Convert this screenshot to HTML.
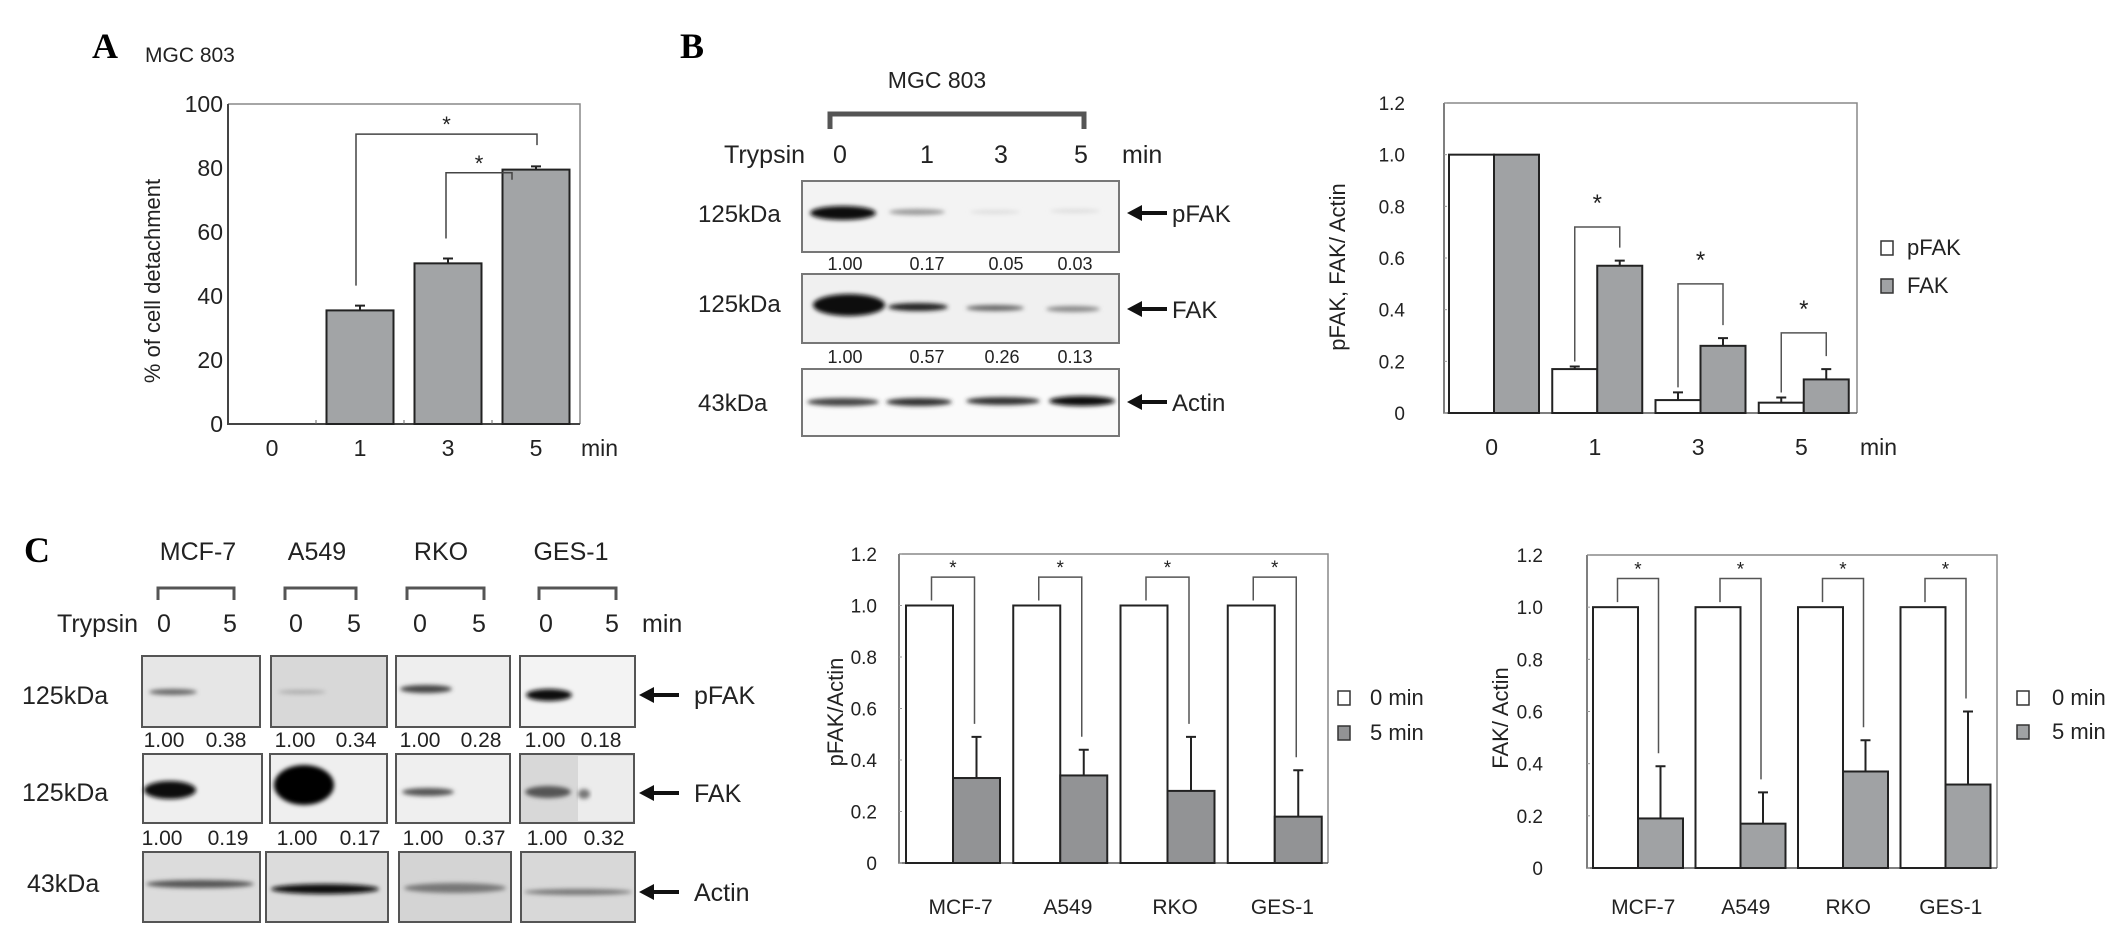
<!DOCTYPE html>
<html><head><meta charset="utf-8">
<style>
html,body{margin:0;padding:0;background:#fff;}
svg{display:block;font-family:"Liberation Sans",Arial,sans-serif;}
</style></head>
<body>
<svg id="fig" width="2126" height="925" viewBox="0 0 2126 925" xmlns="http://www.w3.org/2000/svg">
<defs>
<filter id="bl2" x="-20%" y="-100%" width="140%" height="300%"><feGaussianBlur stdDeviation="2"/></filter>
<filter id="bl4" x="-20%" y="-100%" width="140%" height="300%"><feGaussianBlur stdDeviation="4"/></filter>
</defs>

<!-- Panel labels -->
<text x="92" y="58" font-family="Liberation Serif,serif" font-weight="bold" font-size="36">A</text>
<text x="145" y="62" font-size="21" fill="#222">MGC 803</text>
<text x="680" y="58" font-family="Liberation Serif,serif" font-weight="bold" font-size="36">B</text>
<text x="24" y="562" font-family="Liberation Serif,serif" font-weight="bold" font-size="36">C</text>

<!-- Panel B blots -->
<g>
<text x="937" y="88" font-size="23" text-anchor="middle" fill="#222">MGC 803</text>
<path d="M830 129 V114 H1084 V129" fill="none" stroke="#555" stroke-width="5"/>
<g font-size="25" fill="#222">
<text x="724" y="163">Trypsin</text>
<text x="840" y="163" text-anchor="middle">0</text>
<text x="927" y="163" text-anchor="middle">1</text>
<text x="1001" y="163" text-anchor="middle">3</text>
<text x="1081" y="163" text-anchor="middle">5</text>
<text x="1122" y="163">min</text>
</g>
<g font-size="24" fill="#222">
<text x="698" y="222">125kDa</text>
<text x="698" y="312">125kDa</text>
<text x="698" y="411">43kDa</text>
</g>
<rect x="802" y="181" width="317" height="71" fill="#f3f3f3" stroke="#777" stroke-width="2"/>
<ellipse cx="843" cy="213" rx="33" ry="7" fill="#111" filter="url(#bl2)"/>
<ellipse cx="917" cy="212" rx="28" ry="3" fill="#999" filter="url(#bl2)"/>
<ellipse cx="995" cy="212" rx="25" ry="2" fill="#ddd" filter="url(#bl2)"/>
<ellipse cx="1075" cy="211" rx="25" ry="2" fill="#ddd" filter="url(#bl2)"/>
<rect x="802" y="274" width="317" height="69" fill="#f0f0f0" stroke="#777" stroke-width="2"/>
<ellipse cx="849" cy="305" rx="36" ry="11" fill="#0a0a0a" filter="url(#bl2)"/>
<ellipse cx="918" cy="307" rx="30" ry="4" fill="#222" filter="url(#bl2)"/>
<ellipse cx="995" cy="308" rx="29" ry="3" fill="#666" filter="url(#bl2)"/>
<ellipse cx="1073" cy="309" rx="27" ry="3" fill="#888" filter="url(#bl2)"/>
<rect x="802" y="369" width="317" height="67" fill="#fafafa" stroke="#777" stroke-width="2"/>
<ellipse cx="843" cy="402" rx="36" ry="4" fill="#444" filter="url(#bl2)"/>
<ellipse cx="919" cy="402" rx="33" ry="4" fill="#333" filter="url(#bl2)"/>
<ellipse cx="1003" cy="401" rx="37" ry="4" fill="#333" filter="url(#bl2)"/>
<ellipse cx="1082" cy="401" rx="33" ry="5" fill="#111" filter="url(#bl2)"/>
<g font-size="18" fill="#222" text-anchor="middle">
<text x="845" y="270">1.00</text><text x="927" y="270">0.17</text><text x="1006" y="270">0.05</text><text x="1075" y="270">0.03</text>
</g>
<g font-size="18" fill="#222" text-anchor="middle">
<text x="845" y="363">1.00</text><text x="927" y="363">0.57</text><text x="1002" y="363">0.26</text><text x="1075" y="363">0.13</text>
</g>
<g fill="#111">
<path d="M1127 213 L1142 205 V211 H1167 V215 H1142 V221 Z"/>
<path d="M1127 309 L1142 301 V307 H1167 V311 H1142 V317 Z"/>
<path d="M1127 402 L1142 394 V400 H1167 V404 H1142 V410 Z"/>
</g>
<g font-size="24" fill="#222">
<text x="1172" y="222">pFAK</text>
<text x="1172" y="318">FAK</text>
<text x="1172" y="411">Actin</text>
</g>
</g>

<!-- Panel C blots -->
<g>
<g font-size="25" fill="#222" text-anchor="middle">
<text x="198" y="560">MCF-7</text><text x="317" y="560">A549</text><text x="441" y="560">RKO</text><text x="571" y="560">GES-1</text>
</g>
<g fill="none" stroke="#555" stroke-width="3">
<path d="M158 600 V588 H234 V600"/><path d="M285 600 V588 H356 V600"/><path d="M407 600 V588 H484 V600"/><path d="M539 600 V588 H616 V600"/>
</g>
<g font-size="25" fill="#222">
<text x="57" y="632">Trypsin</text>
<text x="164" y="632" text-anchor="middle">0</text><text x="230" y="632" text-anchor="middle">5</text>
<text x="296" y="632" text-anchor="middle">0</text><text x="354" y="632" text-anchor="middle">5</text>
<text x="420" y="632" text-anchor="middle">0</text><text x="479" y="632" text-anchor="middle">5</text>
<text x="546" y="632" text-anchor="middle">0</text><text x="612" y="632" text-anchor="middle">5</text>
<text x="642" y="632">min</text>
</g>
<g font-size="25" fill="#222">
<text x="22" y="704">125kDa</text>
<text x="22" y="801">125kDa</text>
<text x="27" y="892">43kDa</text>
</g>
<!-- pFAK row -->
<rect x="142" y="656" width="118" height="71" fill="#e6e6e6" stroke="#555" stroke-width="2"/>
<ellipse cx="173" cy="692" rx="24" ry="3" fill="#666" filter="url(#bl2)"/>
<rect x="271" y="656" width="116" height="71" fill="#d8d8d8" stroke="#555" stroke-width="2"/>
<ellipse cx="302" cy="692" rx="24" ry="2" fill="#aaa" filter="url(#bl2)"/>
<rect x="396" y="656" width="114" height="71" fill="#eeeeee" stroke="#555" stroke-width="2"/>
<ellipse cx="426" cy="689" rx="26" ry="4" fill="#444" filter="url(#bl2)"/>
<rect x="520" y="656" width="115" height="71" fill="#f3f3f3" stroke="#555" stroke-width="2"/>
<ellipse cx="549" cy="695" rx="23" ry="6" fill="#111" filter="url(#bl2)"/>
<!-- FAK row -->
<rect x="143" y="754" width="119" height="69" fill="#efefef" stroke="#555" stroke-width="2"/>
<ellipse cx="170" cy="790" rx="26" ry="9" fill="#111" filter="url(#bl2)"/>
<rect x="270" y="754" width="117" height="69" fill="#efefef" stroke="#555" stroke-width="2"/>
<ellipse cx="304" cy="785" rx="30" ry="20" fill="#050505" filter="url(#bl2)"/>
<rect x="396" y="754" width="114" height="69" fill="#efefef" stroke="#555" stroke-width="2"/>
<ellipse cx="428" cy="792" rx="26" ry="4" fill="#555" filter="url(#bl2)"/>
<rect x="520" y="754" width="114" height="69" fill="#d8d8d8" stroke="#555" stroke-width="2"/>
<rect x="578" y="756" width="55" height="65" fill="#ececec"/>
<ellipse cx="548" cy="792" rx="23" ry="6" fill="#555" filter="url(#bl2)"/>
<ellipse cx="584" cy="794" rx="6" ry="5" fill="#777" filter="url(#bl2)"/>
<!-- Actin row -->
<rect x="143" y="852" width="117" height="70" fill="#dcdcdc" stroke="#555" stroke-width="2"/>
<ellipse cx="200" cy="884" rx="54" ry="4" fill="#555" filter="url(#bl2)"/>
<rect x="266" y="852" width="122" height="70" fill="#dcdcdc" stroke="#555" stroke-width="2"/>
<ellipse cx="325" cy="889" rx="54" ry="5" fill="#111" filter="url(#bl2)"/>
<rect x="399" y="852" width="112" height="70" fill="#d4d4d4" stroke="#555" stroke-width="2"/>
<ellipse cx="455" cy="888" rx="51" ry="5" fill="#777" filter="url(#bl2)"/>
<rect x="521" y="852" width="114" height="70" fill="#d8d8d8" stroke="#555" stroke-width="2"/>
<ellipse cx="578" cy="892" rx="54" ry="3" fill="#777" filter="url(#bl2)"/>
<g font-size="21" fill="#222" text-anchor="middle">
<text x="164" y="747">1.00</text><text x="226" y="747">0.38</text><text x="295" y="747">1.00</text><text x="356" y="747">0.34</text>
<text x="420" y="747">1.00</text><text x="481" y="747">0.28</text><text x="545" y="747">1.00</text><text x="601" y="747">0.18</text>
</g>
<g font-size="21" fill="#222" text-anchor="middle">
<text x="162" y="845">1.00</text><text x="228" y="845">0.19</text><text x="297" y="845">1.00</text><text x="360" y="845">0.17</text>
<text x="423" y="845">1.00</text><text x="485" y="845">0.37</text><text x="547" y="845">1.00</text><text x="604" y="845">0.32</text>
</g>
<g fill="#111">
<path d="M639 695 L654 687 V693 H679 V697 H654 V703 Z"/>
<path d="M639 793 L654 785 V791 H679 V795 H654 V801 Z"/>
<path d="M639 892 L654 884 V890 H679 V894 H654 V900 Z"/>
</g>
<g font-size="25" fill="#222">
<text x="694" y="704">pFAK</text>
<text x="694" y="802">FAK</text>
<text x="694" y="901">Actin</text>
</g>
</g>

<g id="charts"></g>
</svg>

<script>
// ---------- Chart data ----------
const aCategories = ['0', '1', '3', '5'];
const aValues = [0, 35.5, 50.2, 79.5];
const aErrors = [0, 1.5, 1.5, 1.0];
const aTicks = [0, 20, 40, 60, 80, 100];
const aBracketTops = [90.6, 78.5];

const bCategories = ['0', '1', '3', '5'];
const bPFAK = [1.0, 0.17, 0.05, 0.04];
const bPFAKErr = [0, 0.01, 0.03, 0.02];
const bFAK = [1.0, 0.57, 0.26, 0.13];
const bFAKErr = [0, 0.02, 0.03, 0.04];
const bBracketTops = [0.72, 0.50, 0.31];
const bTicks = [0, 0.2, 0.4, 0.6, 0.8, 1.0, 1.2];
const bTickLabels = ['0', '0.2', '0.4', '0.6', '0.8', '1.0', '1.2'];

const cCategories = ['MCF-7', 'A549', 'RKO', 'GES-1'];
const c1Zero = [1, 1, 1, 1];
const c1Five = [0.33, 0.34, 0.28, 0.18];
const c1FiveErr = [0.16, 0.10, 0.21, 0.18];
const c2Zero = [1, 1, 1, 1];
const c2Five = [0.19, 0.17, 0.37, 0.32];
const c2FiveErr = [0.20, 0.12, 0.12, 0.28];
const cBracketTop = 1.11;
const cTicks = [0, 0.2, 0.4, 0.6, 0.8, 1.0, 1.2];
const cTickLabels = ['0', '0.2', '0.4', '0.6', '0.8', '1.0', '1.2'];

const NS = 'http://www.w3.org/2000/svg';
const root = document.getElementById('charts');
function mk(tag, attrs, parent) {
  const e = document.createElementNS(NS, tag);
  for (const k in attrs) e.setAttribute(k, attrs[k]);
  (parent || root).appendChild(e);
  return e;
}
function lin(d0, d1, r0, r1) { return v => r0 + (v - d0) * (r1 - r0) / (d1 - d0); }

// ---------- Panel A ----------
(function () {
  const g = mk('g', {});
  
  
  const L = 228, R = 580, T = 104, B = 424;
  const y = lin(0, 100, B, T);
  const step = (R - L) / aCategories.length;
  const cx = i => L + step * (i + 0.5);
  const frame = mk('path', { d: `M${L} ${T} H${R} V${B}`, fill: 'none', stroke: '#888', 'stroke-width': 1.5 }, g);
  
  
  const ax = mk('path', { d: `M${L} ${T} V${B} H${R}`, fill: 'none', stroke: '#444', 'stroke-width': 2 }, g);
  
  
  aTicks.forEach(t => {
    const tl = mk('text', { x: 223, y: y(t) + 8, 'font-size': 23, 'text-anchor': 'end', fill: '#222' }, g);
    tl.textContent = String(t);
    
    
  });
  aCategories.forEach((c, i) => {
    if (i > 0) mk('line', { x1: L + step * i, x2: L + step * i, y1: B, y2: B - 4, stroke: '#666' }, g);
    const v = aValues[i];
    if (v > 0) {
      const bar = mk('rect', { x: cx(i) - 33.5, y: y(v), width: 67, height: B - y(v), fill: '#a2a4a6', stroke: '#222', 'stroke-width': 2 }, g);
      
      
      const e = mk('path', { d: `M${cx(i)} ${y(v)} V${y(v + aErrors[i])} M${cx(i) - 5} ${y(v + aErrors[i])} H${cx(i) + 5}`, stroke: '#222', 'stroke-width': 2 }, g);
      
      
    }
    const xl = mk('text', { x: cx(i), y: 456, 'font-size': 23, 'text-anchor': 'middle', fill: '#222' }, g);
    xl.textContent = c;
    
    
  });
  const mn = mk('text', { x: 581, y: 456, 'font-size': 23, fill: '#222' }, g);
  mn.textContent = 'min';
  
  
  const yt = mk('text', { x: 0, y: 0, 'font-size': 22, 'text-anchor': 'middle', fill: '#222', transform: 'translate(160,281) rotate(-90)' }, g);
  yt.textContent = '% of cell detachment';
  
  
  // significance brackets: 1 vs 5, 3 vs 5
  const pairs = [[1, 3], [2, 3]];
  pairs.forEach((p, k) => {
    const top = y(aBracketTops[k]);
    const x1 = cx(p[0]) - (k === 0 ? 4 : 2), x2 = cx(p[1]) + (k === 0 ? 1 : -24);
    const yl = y(aValues[p[0]] + aErrors[p[0]]) - 20;
    const yr = top + (k === 0 ? 11 : 7);
    const br = mk('path', { d: `M${x1} ${yl} V${top} H${x2} V${yr}`, fill: 'none', stroke: '#444', 'stroke-width': 1.5 }, g);
    
    
    const st = mk('text', { x: (x1 + x2) / 2, y: top - 2, 'font-size': 22, 'text-anchor': 'middle', fill: '#222' }, g);
    st.textContent = '*';
    
    
  });
})();

// ---------- grouped chart helper ----------
function groupedChart(opt) {
  const g = mk('g', {});
  
  
  const { L, R, T, B } = opt;
  const y = lin(0, 1.2, B, T);
  const step = (R - L) / opt.cats.length;
  const frame = mk('path', { d: `M${L} ${T} H${R} V${B}`, fill: 'none', stroke: '#888', 'stroke-width': 1.5 }, g);
  
  
  const ax = mk('path', { d: `M${L} ${T} V${B} H${R}`, fill: 'none', stroke: '#555', 'stroke-width': 1.5 }, g);
  
  
  opt.ticks.forEach((t, i) => {
    mk('line', { x1: L, x2: L + 3, y1: y(t), y2: y(t), stroke: '#999' }, g);
    const tl = mk('text', { x: opt.tickX, y: y(t) + 7, 'font-size': 19, 'text-anchor': 'end', fill: '#222' }, g);
    tl.textContent = opt.tickLabels[i];
    
    
  });
  opt.cats.forEach((c, i) => {
    const gs = L + step * i;
    const x0 = gs + opt.pad, x1 = x0 + opt.bw;
    const v0 = opt.s0[i], v1 = opt.s1[i];
    const b0 = mk('rect', { x: x0, y: y(v0), width: opt.bw, height: B - y(v0), fill: '#fff', stroke: '#222', 'stroke-width': 2 }, g);
    
    
    const b1 = mk('rect', { x: x1, y: y(v1), width: opt.bw, height: B - y(v1), fill: opt.fill1, stroke: '#222', 'stroke-width': 2 }, g);
    
    
    const c0 = x0 + opt.bw / 2, c1 = x1 + opt.bw / 2;
    let e0top = y(v0), e1top = y(v1 + opt.e1[i]);
    if (opt.e0 && opt.e0[i] > 0) {
      e0top = y(v0 + opt.e0[i]);
      const e = mk('path', { d: `M${c0} ${y(v0)} V${e0top} M${c0 - 5} ${e0top} H${c0 + 5}`, stroke: '#222', 'stroke-width': 2 }, g);
      
      
    }
    if (opt.e1[i] > 0) {
      const e = mk('path', { d: `M${c1} ${y(v1)} V${e1top} M${c1 - 5} ${e1top} H${c1 + 5}`, stroke: '#222', 'stroke-width': 2 }, g);
      
      
    }
    const bt = opt.bracket(i);
    if (bt !== null) {
      const top = y(bt);
      const lx = c0 - opt.bInset, rx = c1 + opt.bInset;
      const br = mk('path', { d: `M${lx} ${e0top - 5} V${top} H${rx} V${e1top - 13}`, fill: 'none', stroke: '#555', 'stroke-width': 1.5 }, g);
      
      
      const st = mk('text', { x: (lx + rx) / 2, y: top - opt.starGap, 'font-size': opt.starSize, 'text-anchor': 'middle', fill: '#222' }, g);
      st.textContent = '*';
      
      
    }
    const xl = mk('text', { x: gs + step / 2 + opt.labelShift, y: opt.labelY, 'font-size': opt.labelSize, 'text-anchor': 'middle', fill: '#222' }, g);
    xl.textContent = c;
    
    
  });
  const yt = mk('text', { x: 0, y: 0, 'font-size': 22, 'text-anchor': 'middle', fill: '#222', transform: `translate(${opt.titleX},${opt.titleY}) rotate(-90)` }, g);
  yt.textContent = opt.title;
  
  
  opt.legend.forEach((lg, k) => {
    const sq = mk('rect', { x: opt.legX, y: opt.legY + k * opt.legStep, width: 12, height: 14, fill: k === 0 ? '#fff' : opt.fill1, stroke: '#333', 'stroke-width': 1.5 }, g);
    
    
    const lt = mk('text', { x: opt.legX + opt.legTextDx, y: opt.legY + k * opt.legStep + 14, 'font-size': 22, fill: '#222' }, g);
    lt.textContent = lg;
    
    
  });
  return g;
}

// Panel B chart
const gB = groupedChart({
  name: 'chart-b-pfak-fak', L: 1444, R: 1857, T: 103, B: 413,
  cats: bCategories, s0: bPFAK, s1: bFAK, e0: bPFAKErr, e1: bFAKErr,
  n0: 'pfak', n1: 'fak', fill1: '#a0a2a4', pad: 5, bw: 45,
  ticks: bTicks, tickLabels: bTickLabels, tickX: 1405,
  bracket: i => i === 0 ? null : bBracketTops[i - 1], bInset: 0, starGap: 16, starSize: 24,
  labelY: 455, labelSize: 23, labelShift: -4,
  title: 'pFAK, FAK/ Actin', titleX: 1345, titleY: 267,
  legend: ['pFAK', 'FAK'], legX: 1881, legY: 241, legStep: 38, legTextDx: 26
});
const bMin = mk('text', { x: 1860, y: 455, 'font-size': 23, fill: '#222' }, gB);
bMin.textContent = 'min';



// Panel C charts
groupedChart({
  name: 'chart-c-pfak-actin', L: 899, R: 1328, T: 554, B: 863,
  cats: cCategories, s0: c1Zero, s1: c1Five, e0: null, e1: c1FiveErr,
  n0: '0min', n1: '5min', fill1: '#929395', pad: 7, bw: 47,
  ticks: cTicks, tickLabels: cTickLabels, tickX: 877,
  bracket: i => cBracketTop, bInset: -2, starGap: 3, starSize: 19,
  labelY: 914, labelSize: 21, labelShift: 8,
  title: 'pFAK/Actin', titleX: 843, titleY: 712,
  legend: ['0 min', '5 min'], legX: 1338, legY: 691, legStep: 35, legTextDx: 32
});
groupedChart({
  name: 'chart-c-fak-actin', L: 1587, R: 1997, T: 555, B: 868,
  cats: cCategories, s0: c2Zero, s1: c2Five, e0: null, e1: c2FiveErr,
  n0: '0min', n1: '5min', fill1: '#a0a2a4', pad: 6, bw: 45,
  ticks: cTicks, tickLabels: cTickLabels, tickX: 1543,
  bracket: i => cBracketTop, bInset: -2, starGap: 3, starSize: 19,
  labelY: 914, labelSize: 21, labelShift: 5,
  title: 'FAK/ Actin', titleX: 1508, titleY: 718,
  legend: ['0 min', '5 min'], legX: 2017, legY: 691, legStep: 34, legTextDx: 35
});
</script>
</body></html>
